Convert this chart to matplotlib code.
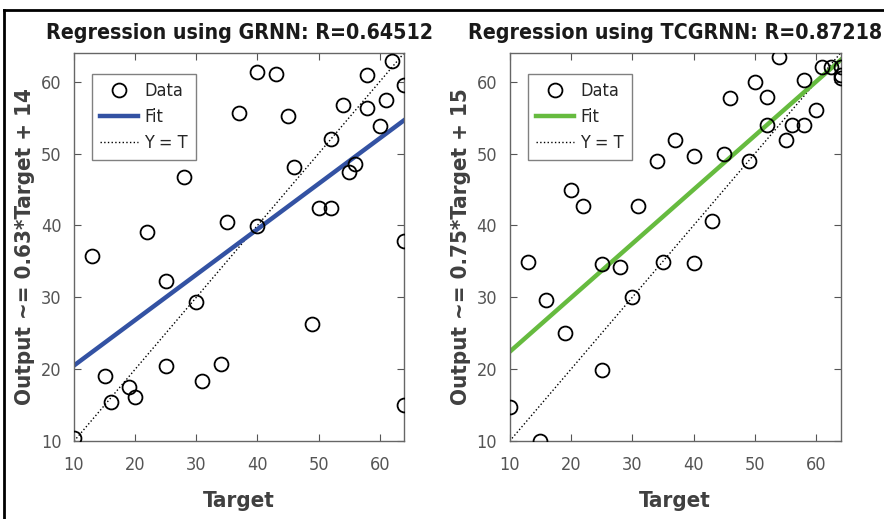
import numpy as np
import matplotlib
matplotlib.use('Agg')
import matplotlib.pyplot as plt
from matplotlib.lines import Line2D

plt.rcParams['font.family'] = ['DejaVu Sans']
plt.rcParams['font.stretch'] = 'condensed'

# GRNN results
grnn_target = [10, 13, 15, 16, 19, 20, 22, 25, 25, 28, 30, 31, 34, 35, 37, 40, 40, 43,
               45, 46, 49, 50, 52, 52, 54, 55, 56, 58, 58, 60, 61, 62, 64, 64, 64]
grnn_output = [10.5, 35.8, 19.0, 15.5, 17.5, 16.1, 39.1, 32.3, 20.5, 46.8, 29.4, 18.3,
               20.8, 40.5, 55.6, 61.4, 39.9, 61.1, 55.2, 48.2, 26.3, 42.4, 42.4, 52.0,
               56.8, 47.5, 48.6, 61.0, 56.3, 53.8, 57.5, 62.9, 59.6, 37.8, 15.0]
grnn_fit = (0.632, 14.2)
grnn_r = 0.64512

# TCGRNN results
tc_target = [10, 13, 15, 16, 19, 20, 22, 25, 25, 28, 30, 31, 34, 35, 37, 40, 40, 43,
             45, 46, 49, 50, 52, 52, 54, 55, 56, 58, 58, 60, 61, 62.5, 64, 64, 64]
tc_output = [14.8, 34.9, 10.0, 29.6, 25.0, 45.0, 42.7, 34.6, 19.9, 34.2, 30.0, 42.7,
             48.9, 34.9, 51.9, 49.6, 34.8, 40.6, 50.0, 57.7, 48.9, 60.0, 57.9, 54.0,
             63.5, 51.9, 54.0, 54.0, 60.2, 56.1, 62.1, 62.1, 62.1, 60.9, 60.5]
tc_fit = (0.752, 14.9)
tc_r = 0.87218

x_ticks = [10, 20, 30, 40, 50, 60]
y_ticks = [10, 20, 30, 40, 50, 60]
lims = (10, 64)

TXT = '#404040'
TICK = '#555555'


def regression_panel(ax, target, output, fit, r, name, color):
    xs = np.array(lims)
    ax.plot(target, output, 'o', mfc='none', mec='black', ms=10, mew=1.3,
            label='Data', zorder=3)
    ax.plot(xs, fit[0] * xs + fit[1], '-', color=color, lw=3.2, label='Fit', zorder=2)
    ax.plot(xs, xs, ':', color='black', lw=1.0, label='Y = T', zorder=1)
    ax.set_xlim(lims)
    ax.set_ylim(lims)
    ax.set_xticks(x_ticks)
    ax.set_yticks(y_ticks)
    ax.tick_params(direction='in', top=True, right=True, length=5, width=0.8,
                   colors=TICK, labelsize=13)
    ax.tick_params(axis='x', pad=11)
    ax.tick_params(axis='y', pad=9)
    for s in ax.spines.values():
        s.set_color('#666666')
        s.set_linewidth(1.0)
    ax.set_title('Regression using %s: R=%.5f' % (name, r), fontsize=15.3,
                 fontweight='bold', color='#1a1a1a', pad=10)
    ax.set_xlabel('Target', fontsize=16, fontweight='bold', color=TXT, labelpad=12)
    ax.set_ylabel('Output ~= %.2f*Target + %d' % (fit[0], round(fit[1])), fontsize=16,
                  fontweight='bold', color=TXT, labelpad=4)
    leg = ax.legend(loc='upper left', bbox_to_anchor=(0.0545, 0.946), borderaxespad=0,
                    fontsize=13, fancybox=False, edgecolor='#808080', framealpha=1,
                    handlelength=2.1, borderpad=0.45, labelspacing=0.45,
                    handletextpad=0.35)
    leg.get_frame().set_linewidth(1.0)
    for t in leg.get_texts():
        t.set_color('#262626')


fig = plt.figure(figsize=(8.84, 5.19), dpi=100)
ax1 = fig.add_axes([0.0837, 0.150, 0.3735, 0.748])
ax2 = fig.add_axes([0.5765, 0.150, 0.3745, 0.748])

regression_panel(ax1, grnn_target, grnn_output, grnn_fit, grnn_r, 'GRNN', '#3352a3')
regression_panel(ax2, tc_target, tc_output, tc_fit, tc_r, 'TCGRNN', '#66bb3f')

# frame around the figure
fig.add_artist(Line2D([0.0045, 0.0045], [-0.01, 0.981], color='black', lw=2.0))
fig.add_artist(Line2D([0.0045, 1.01], [0.981, 0.981], color='black', lw=2.0))

fig.savefig('out.png', dpi=100)
